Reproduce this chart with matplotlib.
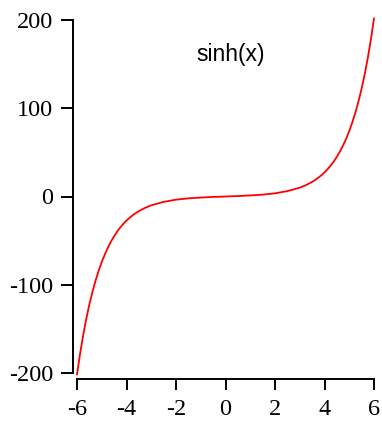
import matplotlib
matplotlib.use("Agg")
from matplotlib import pyplot as plt

# values
xvals = [-6, -5.875, -5.75, -5.625, -5.5, -5.375, -5.25, -5.125, -5, -4.875, -4.75, -4.625,
         -4.5, -4.375, -4.25, -4.125, -4, -3.875, -3.75, -3.625, -3.5, -3.25, -3,
         -2.5, -2, -1.5, -1, -0.5, 0, 0.5, 1, 1.5, 2, 2.5,
         3, 3.25, 3.5, 3.625, 3.75, 3.875, 4, 4.125, 4.25, 4.375, 4.5, 4.625, 4.75, 4.875,
         5, 5.125, 5.25, 5.375, 5.5, 5.625, 5.75, 5.875, 6]
yvals = [-201.7, -178.0, -157.1, -138.6, -122.3, -108.0, -95.3, -84.1, -74.2, -65.5, -57.8, -51.0,
         -45.0, -39.7, -35.1, -30.9, -27.3, -24.1, -21.3, -18.8, -16.5, -12.9, -10.0,
         -6.1, -3.6, -2.1, -1.2, -0.5, 0.0, 0.5, 1.2, 2.1, 3.6, 6.1,
         10.0, 12.9, 16.5, 18.8, 21.3, 24.1, 27.3, 30.9, 35.1, 39.7, 45.0, 51.0, 57.8, 65.5,
         74.2, 84.1, 95.3, 108.0, 122.3, 138.6, 157.1, 178.0, 201.7]
xticks = [-6, -4, -2, 0, 2, 4, 6]
yticks = [-200, -100, 0, 100, 200]

fig = plt.figure(figsize=(3.82, 4.25), dpi=100)
ax = fig.add_axes([77 / 382, (425 - 373) / 425, (374 - 77) / 382, (373 - 20) / 425])

ax.plot(xvals, yvals, color='red', linewidth=1.3, clip_on=False)
ax.set_xlim(-6, 6)
ax.set_ylim(-200, 200)

for s in ['top', 'right']:
    ax.spines[s].set_visible(False)
ax.spines['left'].set_position(('outward', 3))
ax.spines['bottom'].set_position(('outward', 4))
for s in ['left', 'bottom']:
    ax.spines[s].set_linewidth(1.4)

ax.set_xticks(xticks)
ax.set_yticks(yticks)
ax.set_xticklabels([str(v) for v in xticks], family='Liberation Serif', fontsize=17.5)
ax.set_yticklabels([str(v) for v in yticks], family='Liberation Serif', fontsize=17.5)
ax.tick_params(axis='y', direction='out', length=9, width=1.4, pad=5)
ax.tick_params(axis='x', direction='out', length=8, width=1.4, pad=7)

ax.text(0.518, 0.902, 'sinh(x)', transform=ax.transAxes, ha='center', va='center',
        family='Liberation Sans', fontsize=16.5)

fig.savefig('out.png', dpi=100)
